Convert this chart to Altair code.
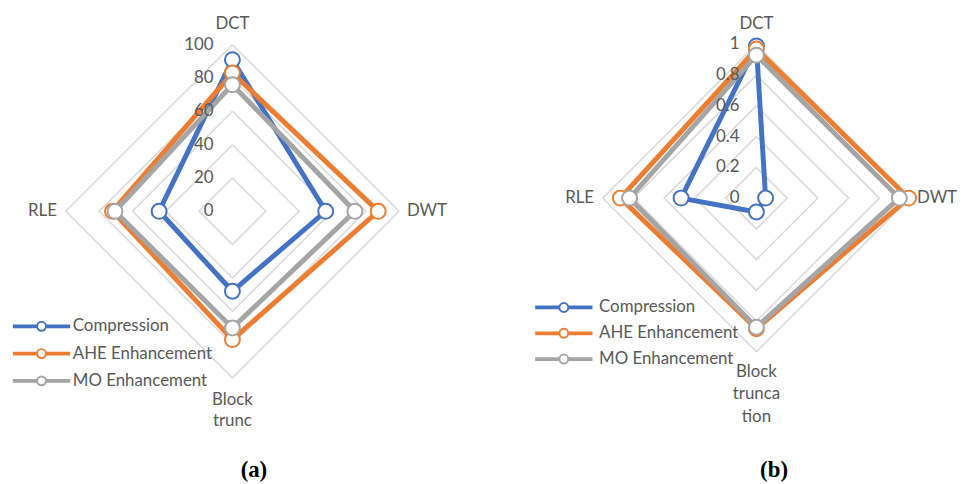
import altair as alt
import pandas as pd

# ---------------- data ----------------
series = ["Compression", "AHE Enhancement", "MO Enhancement"]
colors = ["#4472C4", "#ED7D31", "#A5A5A5"]

categories_a = ["DCT", "DWT", "Block\ntrunc", "RLE"]
compression_a = [91, 56, 48, 44]
ahe_a = [83, 87.5, 77, 72]
mo_a = [76, 73.5, 70, 70.5]
ticks_a = [0, 20, 40, 60, 80, 100]
tick_labels_a = ["0", "20", "40", "60", "80", "100"]

categories_b = ["DCT", "DWT", "Block\ntrunca\ntion", "RLE"]
compression_b = [0.99, 0.06, 0.09, 0.49]
ahe_b = [0.97, 0.99, 0.85, 0.885]
mo_b = [0.93, 0.93, 0.84, 0.825]
ticks_b = [0, 0.2, 0.4, 0.6, 0.8, 1.0]
tick_labels_b = ["0", "0.2", "0.4", "0.6", "0.8", "1"]

TEXT = "#595959"
FONT = "Lato"
SYM = ("M-6.2,-0.2 L-1,-0.2 L-1,0.2 L-6.2,0.2 Z "
       "M1,-0.2 L6.2,-0.2 L6.2,0.2 L1,0.2 Z "
       "M1,0 A1,1 0 1,1 -1,0 A1,1 0 1,1 1,0 Z")

XC = "datum.value * sin(datum.k * PI / 2)"
YC = "datum.value * cos(datum.k * PI / 2)"


def panel(cats, vals, ticks, tick_labels, cx, cy, R, W, H, leg_x, leg_y,
          row_pad, lab_off, tick_dx, offs, lh, title, title_dx):
    vmax = ticks[-1]
    u = R / vmax
    X = alt.X("x:Q", scale=alt.Scale(domain=[-cx / u, (W - cx) / u], nice=False, zero=False), axis=None)
    Y = alt.Y("y:Q", scale=alt.Scale(domain=[-(H - cy) / u, cy / u], nice=False, zero=False), axis=None)

    legend = alt.Legend(
        title=None, orient="none", legendX=leg_x, legendY=leg_y,
        symbolType=SYM, symbolSize=81, symbolStrokeWidth=2, symbolFillColor="white",
        symbolOffset=20, labelOffset=lab_off, labelFont=FONT, labelFontSize=17,
        labelColor=TEXT, rowPadding=row_pad, padding=0, offset=0,
    )
    stroke = alt.Stroke("series:N", scale=alt.Scale(domain=series, range=colors), legend=legend)

    ring_rows = [{"ring": t, "k": k, "value": t} for t in ticks if t > 0 for k in range(5)]
    rings = alt.Chart(pd.DataFrame(ring_rows)).transform_calculate(x=XC, y=YC).mark_line(
        stroke="#D9D9D9", strokeWidth=1.5
    ).encode(x=X, y=Y, detail="ring:N", order="k:Q")

    tick_df = pd.DataFrame({"value": ticks, "label": tick_labels, "k": [0] * len(ticks)})
    tick_text = alt.Chart(tick_df).transform_calculate(x=XC, y=YC).mark_text(
        align="right", baseline="middle", dx=tick_dx, font=FONT, fontSize=17, color=TEXT
    ).encode(x=X, y=Y, text="label:N")

    layers = [rings]
    srows = [{"series": s, "k": k, "value": v[k % 4]} for s, v in zip(series, vals) for k in range(5)]
    sdf = pd.DataFrame(srows)
    for s in series:
        base = alt.Chart(sdf).transform_filter(alt.datum.series == s).transform_calculate(x=XC, y=YC)
        layers.append(base.mark_line(strokeWidth=5).encode(x=X, y=Y, order="k:Q", stroke=stroke))
        layers.append(base.transform_filter(alt.datum.k < 4).mark_point(
            shape="circle", filled=True, fill="white", size=227, strokeWidth=2, opacity=1
        ).encode(x=X, y=Y, stroke=stroke))
    layers.append(tick_text)

    specs = [
        dict(align="center", baseline="middle", dx=0, dy=-offs[0]),
        dict(align="left", baseline="middle", dx=offs[1], dy=0),
        dict(align="center", baseline="top", dx=0, dy=offs[2]),
        dict(align="right", baseline="middle", dx=-offs[3], dy=0),
    ]
    for k, (c, sp) in enumerate(zip(cats, specs)):
        cdf = pd.DataFrame({"label": [c], "k": [k], "value": [vmax]})
        layers.append(alt.Chart(cdf).transform_calculate(x=XC, y=YC).mark_text(
            font=FONT, fontSize=17, color=TEXT, lineBreak="\n", lineHeight=lh, **sp
        ).encode(x=X, y=Y, text="label:N"))

    return alt.layer(*layers).properties(
        width=W, height=H,
        title=alt.TitleParams(title, orient="bottom", anchor="middle", font="Liberation Serif",
                              fontSize=23, fontWeight="bold", color="black", offset=13, dx=title_dx),
    )


pa = panel(categories_a, [compression_a, ahe_a, mo_a], ticks_a, tick_labels_a,
           cx=226.3, cy=203, R=168, W=475, H=440, leg_x=5.3, leg_y=310.5, row_pad=9.5,
           lab_off=23, tick_dx=-19, offs=(21, 8, 14, 9), lh=22, title="(a)", title_dx=10.5)
pb = panel(categories_b, [compression_b, ahe_b, mo_b], ticks_b, tick_labels_b,
           cx=279.7, cy=189.7, R=155, W=475, H=440, leg_x=57, leg_y=291.5, row_pad=8,
           lab_off=27, tick_dx=-17, offs=(20.7, 7, 12, 8.7), lh=23, title="(b)", title_dx=60)

chart = alt.hconcat(pa, pb, spacing=0, bounds="flush", padding=0).resolve_scale(
    x="independent", y="independent", stroke="independent"
).resolve_legend(stroke="independent").configure_view(stroke=None)

chart.save("out.html", embed_options={"renderer": "svg", "actions": False})
